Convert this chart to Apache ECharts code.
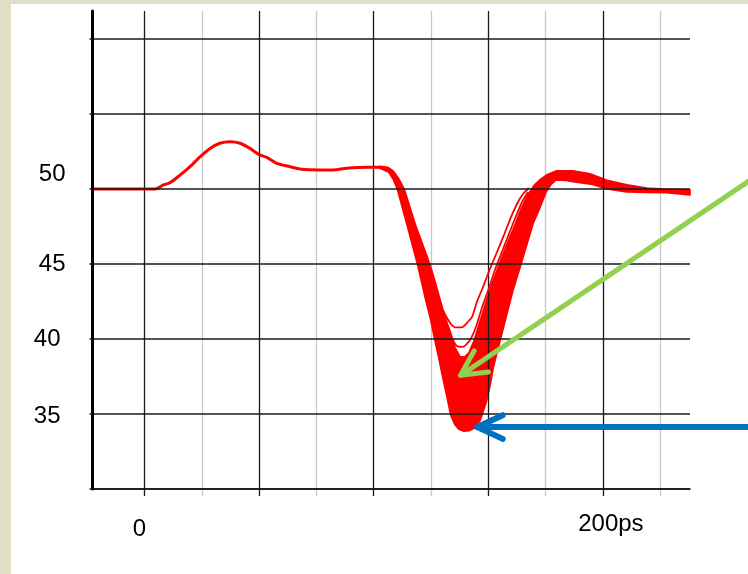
<!DOCTYPE html>
<html><head><meta charset="utf-8">
<script src="https://cdn.jsdelivr.net/npm/echarts@6/dist/echarts.min.js"></script>
<style>
html,body{margin:0;padding:0;width:748px;height:574px;background:#dfdfc6;overflow:hidden;}
#chart{position:absolute;left:11px;top:4px;width:737px;height:570px;background:#fff;}
</style></head><body><div id="chart"></div>
<script>
// ---- axes ----
const xAxisMin = -22.7, xAxisMax = 238;
const yAxisMin = 30, yAxisMax = 61.87;
const xMajorTicks = [0, 50, 100, 150, 200];
const xMinorTicks = [25, 75, 125, 175, 225];
const yTicks = [30, 35, 40, 45, 50, 55, 60];
const yLabelValues = [35, 40, 45, 50];
const xLabelValues = [0, 200];
const xLabelTexts = ['0', '200ps'];

// ---- data (time ps, value) ----
const leadTrace = [
[-22.7,50.00],[4.6,50.00],[8.2,50.27],[11.1,50.42],[15.5,50.93],[20.6,51.60],[24.2,52.15],[28.6,52.71],[32.9,53.05],[37.3,53.15],[41.7,53.05],[46.0,52.71],[49.6,52.33],[53.3,52.11],[57.7,51.71],[63.5,51.49],[67.8,51.33],[76.6,51.27],[82.2,51.27],[88.2,51.38],[96.9,51.45],[102.7,51.45]
];
const bundleOuter = [
[102.7,51.40],[106.7,51.13],[108.8,50.60],[110.4,50.00],[112.3,48.93],[114.9,47.47],[117.1,46.20],[119.3,44.93],[121.1,43.73],[122.8,42.60],[125.0,41.27],[126.7,40.00],[128.5,38.73],[130.2,37.47],[132.0,36.20],[133.7,34.93],[135.4,34.33],[137.2,34.00],[139.4,33.87],[141.6,33.90],[143.7,34.07],[146.4,34.60],[149.0,35.80],[150.7,36.93],[152.0,38.07],[155.1,39.93],[158.1,41.73],[160.7,43.27],[163.8,44.80],[166.9,46.40],[169.5,47.73],[172.5,48.80],[175.1,49.80],[177.3,50.33],[179.5,50.63],[183.4,50.60],[186.9,50.50],[195.6,50.33],[201.8,50.03],[210.5,49.83],[219.2,49.80],[227.9,49.77],[237.9,49.63]
];
const bundleInner = [
[102.7,51.50],[106.2,51.43],[108.4,51.20],[110.6,50.73],[113.2,50.00],[115.8,48.73],[118.4,47.47],[121.5,46.20],[124.5,44.93],[126.7,43.80],[128.9,42.60],[131.1,41.40],[133.3,40.47],[135.4,39.40],[137.6,38.80],[139.8,38.80],[141.6,39.07],[143.7,39.80],[146.4,41.13],[149.4,42.60],[152.0,43.80],[155.1,45.07],[158.1,46.27],[161.2,47.40],[164.2,48.60],[167.3,49.60],[169.9,50.20],[172.5,50.60],[175.6,50.93],[179.9,51.20],[186.9,51.20],[194.3,51.00],[201.8,50.57],[210.5,50.27],[219.2,50.05],[226.2,49.98],[237.9,49.93]
];
const outlier1 = [
[130.2,41.93],[132.0,41.40],[133.7,41.00],[135.9,40.77],[138.5,40.77],[140.7,41.07],[142.9,41.47],[145.0,42.47],[147.7,43.47],[150.7,44.67],[153.8,45.80],[156.8,46.93],[159.9,48.13],[162.5,49.00],[165.1,49.67],[167.7,50.07]
];
const outlier2 = [
[131.1,41.40],[132.8,40.60],[134.6,39.93],[136.3,39.53],[138.9,39.47],[142.0,39.93],[144.6,40.80],[147.2,42.07],[150.3,43.40],[152.9,44.60],[155.9,45.80],[159.0,47.00],[162.1,48.20],[164.7,49.13],[167.3,49.80]
];
// annotation arrows: [tailX, tailY, tipX, tipY]
const greenArrow = [263.3, 50.49, 137.9, 37.58];
const blueArrow = [263.3, 34.13, 145.2, 34.13];

const FONT = '"Liberation Sans", Arial, sans-serif';
const RED = '#ff0000';
const bundlePolygon = bundleOuter.concat(bundleInner.slice().reverse());

function txt(extra) {
  return Object.assign({fontSize: 24, fontFamily: FONT, color: '#000'}, extra || {});
}

function arrowSeries(arr, color, width, armLen, armDeg) {
  return {
    type: 'custom', coordinateSystem: 'cartesian2d', clip: false, z: 10,
    encode: {x: [0, 2], y: [1, 3]},
    data: [arr],
    renderItem: function (params, api) {
      const a = api.coord([api.value(0), api.value(1)]);
      const b = api.coord([api.value(2), api.value(3)]);
      const ang = Math.atan2(a[1] - b[1], a[0] - b[0]);
      const d = armDeg * Math.PI / 180;
      const p1 = [b[0] + armLen * Math.cos(ang + d), b[1] + armLen * Math.sin(ang + d)];
      const p2 = [b[0] + armLen * Math.cos(ang - d), b[1] + armLen * Math.sin(ang - d)];
      return {type: 'group', children: [
        {type: 'line', shape: {x1: a[0], y1: a[1], x2: b[0], y2: b[1]},
         style: {stroke: color, lineWidth: width, lineCap: 'round'}},
        {type: 'polyline', shape: {points: [p1, b, p2]},
         style: {stroke: color, fill: null, lineWidth: width, lineCap: 'round', lineJoin: 'round'}}
      ]};
    }
  };
}

const chart = echarts.init(document.getElementById('chart'), null, {renderer: 'canvas'});
const option = {
  backgroundColor: '#fff',
  animation: false,
  grid: {left: 81.5, top: 7, width: 597.5, height: 478, containLabel: false, outerBoundsMode: 'none'},
  xAxis: [
    {
      type: 'value', min: xAxisMin, max: xAxisMax, position: 'bottom', z: 3,
      axisLine: {show: true, onZero: false, lineStyle: {color: '#000', width: 1.5}},
      axisTick: {show: true, customValues: xMajorTicks, length: 7, inside: false, lineStyle: {color: '#1a1a1a', width: 1.3}},
      splitLine: {show: true, lineStyle: {color: '#1a1a1a', width: 1.3}},
      axisLabel: {
        show: true, customValues: xLabelValues, margin: 23,
        formatter: function (v) {
          const i = xLabelValues.indexOf(v);
          return '{' + (i === 0 ? 'a' : 'b') + '|' + xLabelTexts[i] + '}';
        },
        rich: {a: txt({padding: [5, 10, 0, 0]}), b: txt({padding: [0, 0, 0, 16]})}
      }
    },
    {
      type: 'value', min: xAxisMin, max: xAxisMax, position: 'bottom', offset: 0, z: 1,
      axisLine: {show: false, onZero: false},
      axisTick: {show: true, customValues: xMinorTicks, length: 7, inside: false, lineStyle: {color: '#c8c8c8', width: 1.3}},
      splitLine: {show: true, lineStyle: {color: '#c8c8c8', width: 1.3}},
      axisLabel: {show: false}
    }
  ],
  yAxis: {
    type: 'value', min: yAxisMin, max: yAxisMax, interval: 5, z: 4,
    axisLine: {show: true, onZero: false, lineStyle: {color: '#000', width: 3}},
    axisTick: {show: true, customValues: yTicks, length: 3, inside: false, lineStyle: {color: '#1a1a1a', width: 1.5}},
    splitLine: {show: true, lineStyle: {color: ['#1a1a1a','#1a1a1a','#1a1a1a','#1a1a1a','#1a1a1a','#1a1a1a','#1a1a1a','rgba(0,0,0,0)'], width: 1.5}},
    axisLabel: {
      show: true, customValues: yLabelValues, margin: 27,
      formatter: function (v) {
        const s = v === 50 ? 'up' : (v === 35 ? 'lo' : (v === 40 ? 'lft' : 'n'));
        return '{' + s + '|' + v + '}';
      },
      rich: {
        n: txt(), up: txt({padding: [0, 0, 30, 0]}),
        lft: txt({padding: [0, 5, 0, 0]}), lo: txt({padding: [5, 5, 0, 0]})
      }
    }
  },
  series: [
    {
      type: 'custom', coordinateSystem: 'cartesian2d', clip: false, z: 2,
      data: bundlePolygon,
      renderItem: function (params, api) {
        if (params.dataIndex !== 0) return null;
        const pts = bundlePolygon.map(function (p) { return api.coord(p); });
        return {type: 'polygon', shape: {points: pts}, style: {fill: RED, stroke: RED, lineWidth: 2.2, lineJoin: 'round'}};
      }
    },
    {type: 'line', data: leadTrace, showSymbol: false, smooth: 0.3, z: 3,
     lineStyle: {color: RED, width: 3}},
    {type: 'line', data: outlier1, showSymbol: false, smooth: 0.2, z: 3,
     lineStyle: {color: RED, width: 1.8}},
    {type: 'line', data: outlier2, showSymbol: false, smooth: 0.2, z: 3,
     lineStyle: {color: RED, width: 1.8}},
    arrowSeries(greenArrow, '#92d050', 5, 28, 27),
    arrowSeries(blueArrow, '#0070c0', 6, 28, 25)
  ]
};
chart.setOption(option);
</script></body></html>
